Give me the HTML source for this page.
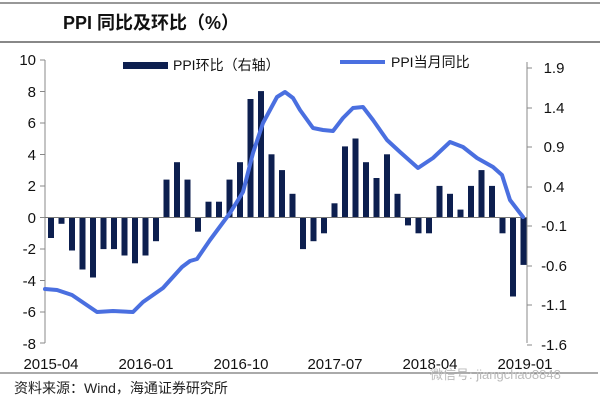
<!DOCTYPE html>
<html><head><meta charset="utf-8"><style>
html,body{margin:0;padding:0;background:#fff;}
svg{display:block;font-family:"Liberation Sans","Noto Sans CJK SC",sans-serif;}
</style></head><body>
<svg width="600" height="400" viewBox="0 0 600 400" xmlns="http://www.w3.org/2000/svg">
<line x1="0" y1="3" x2="600" y2="3" stroke="#777" stroke-width="1.5"/>
<line x1="0" y1="42" x2="600" y2="42" stroke="#888" stroke-width="2"/>
<text x="63" y="29" font-size="18" font-weight="bold" fill="#111">PPI 同比及环比（%）</text>
<line x1="45" y1="60" x2="45" y2="343" stroke="#888" stroke-width="1"/>
<line x1="527" y1="62" x2="527" y2="343" stroke="#888" stroke-width="1"/>
<g stroke="#888">
<line x1="40" y1="60" x2="45" y2="60"/><line x1="40" y1="91.5" x2="45" y2="91.5"/><line x1="40" y1="123" x2="45" y2="123"/><line x1="40" y1="154.5" x2="45" y2="154.5"/><line x1="40" y1="186" x2="45" y2="186"/><line x1="40" y1="217.5" x2="45" y2="217.5"/><line x1="40" y1="249" x2="45" y2="249"/><line x1="40" y1="280.5" x2="45" y2="280.5"/><line x1="40" y1="312" x2="45" y2="312"/><line x1="40" y1="343" x2="45" y2="343"/>
<line x1="527" y1="68" x2="532" y2="68"/><line x1="527" y1="108" x2="532" y2="108"/><line x1="527" y1="147" x2="532" y2="147"/><line x1="527" y1="187" x2="532" y2="187"/><line x1="527" y1="226" x2="532" y2="226"/><line x1="527" y1="266" x2="532" y2="266"/><line x1="527" y1="305" x2="532" y2="305"/><line x1="527" y1="345" x2="532" y2="345"/>
</g>
<g font-size="15" fill="#111" text-anchor="end">
<text x="36" y="65">10</text><text x="36" y="97">8</text><text x="36" y="128">6</text><text x="36" y="160">4</text><text x="36" y="191">2</text><text x="36" y="223">0</text><text x="36" y="254">-2</text><text x="36" y="286">-4</text><text x="36" y="317">-6</text><text x="36" y="349">-8</text>
</g>
<g font-size="15" fill="#111" text-anchor="middle">
<text x="554" y="73">1.9</text><text x="554" y="113">1.4</text><text x="554" y="152">0.9</text><text x="554" y="192">0.4</text><text x="554" y="231">-0.1</text><text x="554" y="271">-0.6</text><text x="554" y="310">-1.1</text><text x="554" y="350">-1.6</text>
<text x="51" y="369">2015-04</text><text x="146" y="369">2016-01</text><text x="241" y="369">2016-10</text><text x="335" y="369">2017-07</text><text x="430" y="369">2018-04</text><text x="525" y="369">2019-01</text>
</g>
<g fill="#0d1f4f">
<rect x="48" y="217.5" width="6" height="20.5"/>
<rect x="58.5" y="217.5" width="6" height="6.3"/>
<rect x="69" y="217.5" width="6" height="33"/>
<rect x="79.5" y="217.5" width="6" height="52"/>
<rect x="90" y="217.5" width="6" height="60"/>
<rect x="100.5" y="217.5" width="6" height="31.6"/>
<rect x="111" y="217.5" width="6" height="31.6"/>
<rect x="121.5" y="217.5" width="6" height="38"/>
<rect x="132" y="217.5" width="6" height="45.8"/>
<rect x="142.5" y="217.5" width="6" height="38"/>
<rect x="153" y="217.5" width="6" height="23.7"/>
<rect x="163.5" y="179.6" width="6" height="37.9"/>
<rect x="174" y="162.2" width="6" height="55.3"/>
<rect x="184.5" y="179.6" width="6" height="37.9"/>
<rect x="195" y="217.5" width="6" height="14.2"/>
<rect x="205.5" y="201.7" width="6" height="15.8"/>
<rect x="216" y="201.7" width="6" height="15.8"/>
<rect x="226.5" y="179.6" width="6" height="37.9"/>
<rect x="237" y="162.2" width="6" height="55.3"/>
<rect x="247.5" y="99" width="6" height="118.5"/>
<rect x="258" y="91.1" width="6" height="126.4"/>
<rect x="268.5" y="154.3" width="6" height="63.2"/>
<rect x="279" y="170.1" width="6" height="47.4"/>
<rect x="289.5" y="193.8" width="6" height="23.7"/>
<rect x="300" y="217.5" width="6" height="31.6"/>
<rect x="310.5" y="217.5" width="6" height="23.7"/>
<rect x="321" y="217.5" width="6" height="15.8"/>
<rect x="331.5" y="203.3" width="6" height="14.2"/>
<rect x="342" y="146.4" width="6" height="71.1"/>
<rect x="352.5" y="138.5" width="6" height="79"/>
<rect x="363" y="162.2" width="6" height="55.3"/>
<rect x="373.5" y="178" width="6" height="39.5"/>
<rect x="384" y="154.3" width="6" height="63.2"/>
<rect x="394.5" y="193.8" width="6" height="23.7"/>
<rect x="405" y="217.5" width="6" height="7.9"/>
<rect x="415.5" y="217.5" width="6" height="15.8"/>
<rect x="426" y="217.5" width="6" height="15.8"/>
<rect x="436.5" y="185.9" width="6" height="31.6"/>
<rect x="447" y="193.8" width="6" height="23.7"/>
<rect x="457.5" y="209.6" width="6" height="7.9"/>
<rect x="468" y="185.9" width="6" height="31.6"/>
<rect x="478.5" y="170.1" width="6" height="47.4"/>
<rect x="489" y="185.9" width="6" height="31.6"/>
<rect x="499.5" y="217.5" width="6" height="15.8"/>
<rect x="510" y="217.5" width="6" height="79"/>
<rect x="520.5" y="217.5" width="6" height="47.4"/>
</g>
<line x1="45" y1="217.5" x2="527" y2="217.5" stroke="#777" stroke-width="1"/>
<path d="M45,289 L57,290 L72,295 L97,312 L113,311 L133,312 L143,302 L163,288 L182,267 L190,261 L197,259 L210,240 L230,213 L243,192 L253,153 L263,123 L277,97 L285,92 L293,98 L300,110 L313,128 L323,130 L333,131 L343,118 L353,108 L363,107 L373,120 L387,140 L400,152 L418,168 L433,158 L450,142 L463,147 L477,158 L493,167 L502,175 L510,200 L523,217" fill="none" stroke="#4a6fe0" stroke-width="4" stroke-linejoin="round" stroke-linecap="round"/>
<rect x="123" y="62" width="45" height="7" fill="#0d1f4f"/>
<text x="173" y="70" font-size="14" fill="#111">PPI环比（右轴）</text>
<line x1="340" y1="62" x2="385" y2="62" stroke="#4a6fe0" stroke-width="4"/>
<text x="391" y="67" font-size="14" fill="#111">PPI当月同比</text>
<line x1="0" y1="373" x2="598" y2="373" stroke="#555" stroke-width="1"/>
<text x="14" y="393" font-size="14" fill="#222">资料来源：Wind，海通证券研究所</text>
<text x="430" y="379" font-size="13" fill="#bbb">微信号: jiangchao8848</text>
</svg>
</body></html>
